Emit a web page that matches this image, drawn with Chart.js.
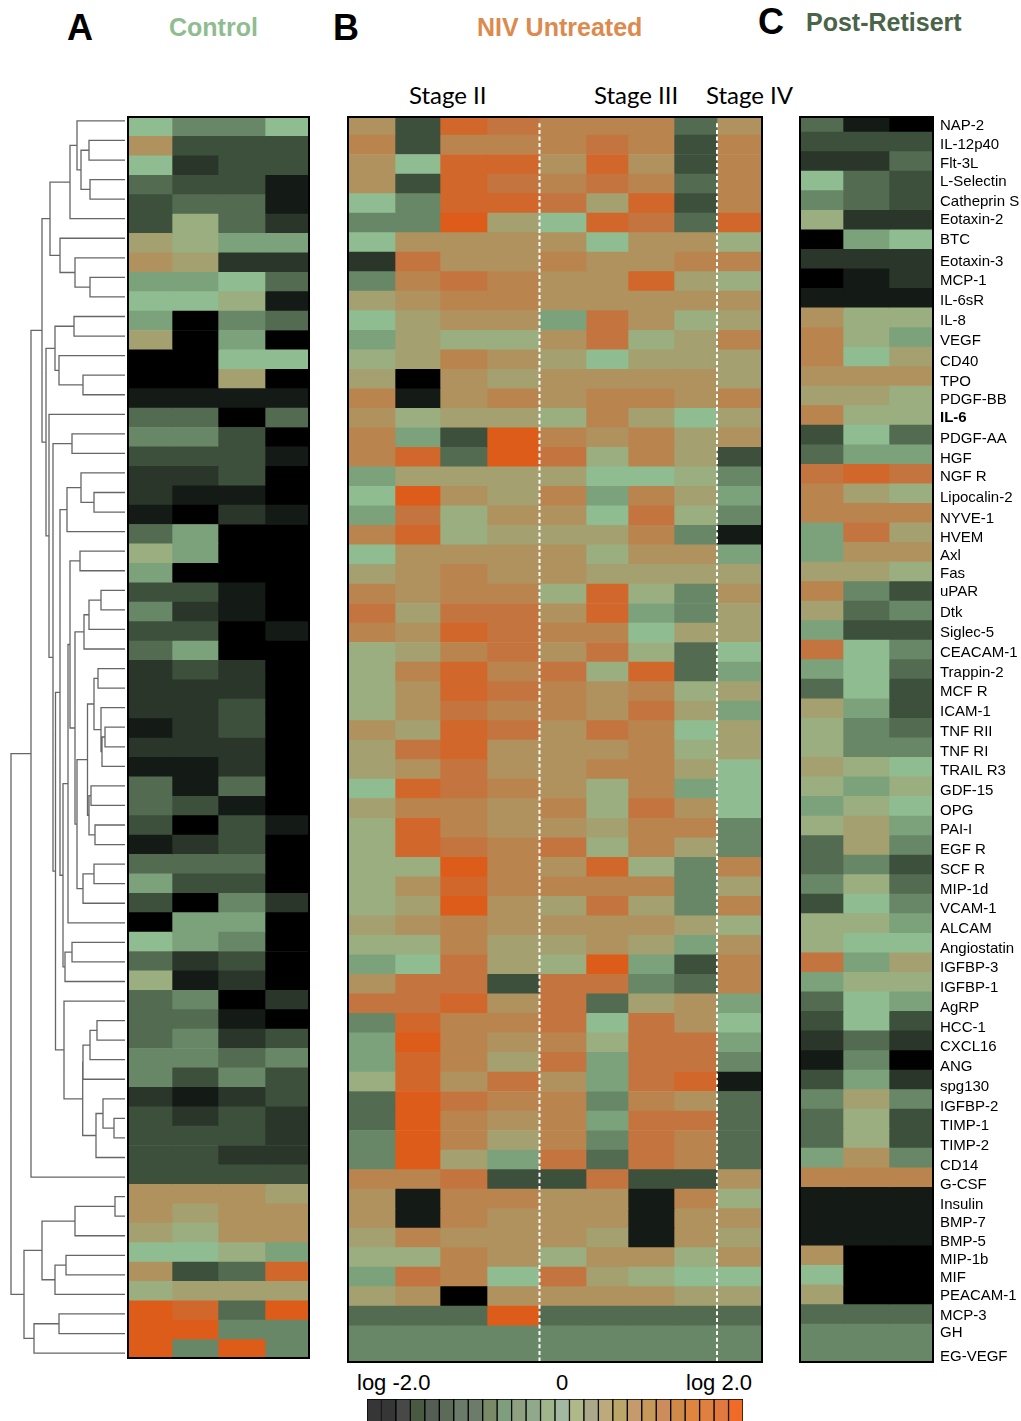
<!DOCTYPE html>
<html>
<head>
<meta charset="utf-8">
<title>Heatmap</title>
<script src="https://cdn.jsdelivr.net/npm/chart.js@4"></script>
<style>
html, body { margin: 0; padding: 0; background: #fff; }
body { position: relative; width: 1021px; height: 1421px; overflow: hidden; font-family: "Liberation Sans", sans-serif; }
canvas, .frame, .txt { position: absolute; }
.frame { box-sizing: border-box; border: 2.4px solid #000; pointer-events: none; }
.txt { line-height: 40px; height: 40px; white-space: nowrap; }
.letter { font-weight: bold; font-size: 36px; color: #000; }
.group { font-weight: bold; font-size: 25px; }
.stage { font-family: Lato, sans-serif; font-size: 24px; color: #000; }
.log { font-size: 22px; color: #000; }
</style>
</head>
<body>
<div class="txt letter" style="left:67px;top:8px">A</div>
<div class="txt letter" style="left:333px;top:8px">B</div>
<div class="txt letter" style="left:758px;top:2px">C</div>
<div class="txt group" style="left:169px;top:7px;color:#8fbc90">Control</div>
<div class="txt group" style="left:477px;top:7px;color:#dc8a4e">NIV Untreated</div>
<div class="txt group" style="left:806px;top:2px;color:#4a6448">Post-Retisert</div>
<div class="txt stage" style="left:409px;top:75px">Stage II</div>
<div class="txt stage" style="left:594px;top:75px">Stage III</div>
<div class="txt stage" style="left:706px;top:75px">Stage IV</div>
<div class="txt log" style="left:357px;top:1363px">log -2.0</div>
<div class="txt log" style="left:556px;top:1363px">0</div>
<div class="txt log" style="left:686px;top:1363px">log 2.0</div>

<canvas id="dendro" width="126" height="1240" style="left:0;top:117px"></canvas>
<canvas id="control" width="179" height="1242" style="left:129px;top:117px"></canvas>
<canvas id="niv" width="412" height="1246" style="left:349px;top:117px"></canvas>
<canvas id="post" width="220" height="1246" style="left:801px;top:117px"></canvas>
<canvas id="colorbar" width="376" height="22" style="left:367px;top:1399px"></canvas>

<div class="frame" style="left:127px;top:116px;width:183px;height:1243px"></div>
<div class="frame" style="left:347px;top:116px;width:416px;height:1247px"></div>
<div class="frame" style="left:799px;top:116px;width:135px;height:1247px"></div>

<script>
// row names, top to bottom
const rowLabels = ['NAP-2','IL-12p40','Flt-3L','L-Selectin','Catheprin S','Eotaxin-2','BTC','Eotaxin-3','MCP-1','IL-6sR',
    'IL-8','VEGF','CD40','TPO','PDGF-BB','IL-6','PDGF-AA','HGF','NGF R','Lipocalin-2',
    'NYVE-1','HVEM','Axl','Fas','uPAR','Dtk','Siglec-5','CEACAM-1','Trappin-2','MCF R',
    'ICAM-1','TNF RII','TNF RI','TRAIL R3','GDF-15','OPG','PAI-I','EGF R','SCF R','MIP-1d',
    'VCAM-1','ALCAM','Angiostatin','IGFBP-3','IGFBP-1','AgRP','HCC-1','CXCL16','ANG','spg130',
    'IGFBP-2','TIMP-1','TIMP-2','CD14','G-CSF','Insulin','BMP-7','BMP-5','MIP-1b','MIF',
    'PEACAM-1','MCP-3','GH','EG-VEGF'];

// cell values as steps on the colour scale, 0 = log -2.0, 7 = 0, 14 = log 2.0
const controlLevels = [
    [7,5,5,7],[10,3,3,3],[7,2,3,3],[4,3,3,1],[3,4,4,1],[3,8,4,2],[9,8,6,6],[10,9,2,2],[6,6,7,4],[7,7,8,1],
    [6,0,5,4],[9,0,6,0],[0,0,7,7],[0,0,9,0],[1,1,1,1],[4,4,0,4],[5,5,3,0],[3,3,3,1],[2,2,3,0],[2,1,1,0],
    [1,0,2,1],[4,6,0,0],[8,6,0,0],[6,0,0,0],[3,3,1,0],[5,2,1,0],[3,3,0,1],[4,6,0,0],[2,3,2,0],[2,2,2,0],
    [2,2,3,0],[1,2,3,0],[2,2,2,0],[1,1,2,0],[4,1,4,0],[4,3,1,0],[3,0,3,1],[1,2,3,0],[4,4,4,0],[6,3,3,0],
    [3,0,5,2],[0,6,6,0],[7,6,5,0],[4,2,3,0],[8,1,2,0],[4,5,0,2],[4,4,1,0],[4,5,2,3],[5,5,4,5],[5,3,5,3],
    [2,1,2,3],[3,2,3,2],[3,3,3,2],[3,3,2,2],[3,3,3,3],[10,10,10,9],[10,9,10,10],[9,8,10,10],[7,7,8,6],[10,3,4,13],
    [8,9,9,9],[14,13,4,14],[14,14,5,5],[14,5,14,5]];

const nivLevels = [
    [10,3,13,12,11,11,11,4,10],[11,3,11,11,11,12,11,3,11],[10,7,13,13,10,13,10,3,11],[10,3,13,12,11,12,11,4,11],
    [7,5,13,13,12,9,13,3,11],[5,5,14,9,7,13,12,4,13],[7,10,10,10,10,7,10,10,8],[2,12,10,10,11,10,10,11,11],
    [5,11,12,11,10,10,13,9,8],[9,10,11,11,10,10,10,10,10],[7,9,10,10,6,12,10,8,9],[6,9,8,8,10,12,8,9,11],
    [8,9,11,10,9,7,9,9,9],[9,0,10,9,10,10,10,10,9],[11,1,10,11,10,11,11,10,11],[10,8,9,9,8,11,9,7,9],
    [11,6,3,14,11,10,11,9,10],[11,13,4,14,12,8,11,9,3],[6,9,9,9,9,7,7,8,5],[7,14,10,9,11,6,11,9,6],
    [6,12,8,10,10,7,12,8,5],[11,13,8,9,9,9,11,5,1],[7,10,10,10,10,8,10,10,6],[9,10,11,10,10,9,9,9,9],
    [11,10,11,11,8,13,8,5,10],[12,9,12,12,10,13,6,5,9],[11,10,13,12,11,11,7,9,9],[8,9,11,12,10,12,8,4,7],
    [8,11,13,11,12,8,13,4,6],[8,10,13,12,11,10,11,8,9],[8,10,12,11,11,10,12,9,6],[10,9,13,12,10,12,11,7,9],
    [9,12,13,10,10,10,11,8,9],[9,10,12,10,10,11,11,9,7],[7,13,12,11,10,8,11,6,7],[9,11,11,10,11,8,12,10,7],
    [8,13,11,10,10,9,11,11,5],[8,13,12,11,12,8,11,9,5],[8,8,14,11,10,13,8,5,11],[8,10,13,11,11,11,11,5,9],
    [8,9,14,10,9,12,9,5,11],[9,10,11,10,10,10,10,9,8],[8,8,11,9,9,10,9,6,10],[6,7,12,9,8,14,6,3,11],
    [10,12,12,3,12,12,5,4,11],[12,12,13,10,12,4,9,10,6],[5,13,11,11,12,7,12,10,7],[6,14,11,10,11,8,12,12,6],
    [6,13,11,9,12,6,12,12,5],[8,13,10,12,10,6,12,13,1],[4,14,12,11,11,5,11,10,4],[4,14,11,10,11,6,12,12,4],
    [5,14,11,9,11,5,12,11,4],[5,14,9,6,12,4,12,11,4],[11,11,12,3,3,12,3,3,10],[10,1,11,11,10,10,1,11,8],
    [10,1,11,10,10,10,1,10,10],[9,11,10,10,10,9,1,10,9],[8,8,11,10,8,10,10,8,10],[6,12,11,7,12,9,8,7,7],
    [9,10,0,10,10,10,10,9,9],[4,4,4,14,4,4,4,4,4],[5,5,5,5,5,5,5,5,5],[5,5,5,5,5,5,5,5,5]];

const postLevels = [
    [4,1,0],[3,3,3],[2,2,4],[7,4,3],[5,4,3],[8,2,2],[0,6,7],[2,2,2],[0,1,2],[1,1,1],
    [10,8,8],[11,8,6],[11,7,9],[10,10,10],[9,9,8],[11,8,8],[3,7,4],[4,6,6],[12,13,12],[11,9,8],
    [11,11,11],[6,12,9],[6,10,10],[9,9,8],[11,5,3],[9,4,5],[6,3,3],[12,7,5],[6,7,4],[4,7,3],
    [9,6,3],[8,5,4],[8,5,5],[9,8,7],[8,6,8],[6,8,7],[8,9,6],[4,9,5],[4,5,3],[5,8,4],
    [3,7,5],[8,8,6],[8,7,7],[12,6,9],[6,8,8],[4,7,6],[3,7,3],[2,4,2],[1,5,0],[3,6,2],
    [5,9,5],[4,8,3],[4,8,3],[6,10,5],[11,11,11],[1,1,1],[1,1,1],[1,1,1],[10,0,0],[7,0,0],
    [9,0,0],[4,4,4],[5,5,5],[5,5,5]];

// colour for each step
const palette = ['#000000','#141a15','#2a3629','#3d503c','#526b51','#688767','#7ca27c','#8fbc90',
    '#9bae80','#a5a06f','#b0925e','#ba844e','#c4753f','#d2672c','#dd5c1a'];

// the printed key
const colorbarColors = ['#363636','#363636','#484848','#4a5a42','#555e55','#5c6a58','#6b7b69','#6c7b6a','#7a8a66',
    '#7e9e7e','#8fa080','#8fa98a','#9fb58c','#a2b8a0','#aeb888','#aca98a','#bca97c','#b9a668','#c59a6c','#c4995a',
    '#cd8c5c','#cf8a4a','#df8540','#df8040','#e07840','#f06a28'];

// dendrogram: [merge position, left, right], a plain number is a row
const c0to5 = [70,[77,0,[81,[89,1,2],[90,3,4]]],5];
const c6to9 = [60,6,[75,7,[90,8,9]]];
const c10to14 = [55,[74,10,11],[59,12,[83,13,14]]];
const c18to21 = [67,[81,18,[94,19,20]],21];
const c24to27 = [84,[89,[101,24,25],26],27];
const c28to37 = [87.5,[94,[98,28,29],[101,30,[102,[105,31,32],33]]],[89,[91,34,35],[95,36,37]]];
const c38to40 = [83,[94,38,39],40];
const c22to44 = [63,[68,[70,[80,22,23],[75,c24to27,[77,c28to37,c38to40]]],41],[65,[72,42,43],44]];
const c45to53 = [64,45,[82.7,[83,[90,[97,46,47],48],49],[96,[103,50,[114,51,52]],53]]];
const c15to53 = [49,15,[53,[72,16,17],[55.5,[60,c18to21,c22to44],c45to53]]];
const c55to63 = [24,[42,[75,[115,55,56],57],[55,[66,58,59],60]],[34,[59,61,62],63]];
const clusterTree = [11,[31,[42,[50,c0to5,c6to9],[46,c10to14,c15to53]],54],c55to63];

// layout: column edges, stage separators and label centres (page pixels)
const controlEdges = [0,43,89,136,179];
const nivEdges = [0,46,91,138,190,237,279,325,368,412];
const postEdges = [0,42,88,131];
const stageBreaks = [190.5,368];
const labelCentres = [126,145,164,182,202,220,240,262,281,301,321,341,362,382,400,418,439,459,477,498,519,538,556,574,592,
    613,633,653,673,692,712,732,752,771,791,811,830,850,870,890,909,929,949,968,988,1008,1028,1047,1067,1087,1107,1126,
    1146,1166,1185,1205,1223,1242,1260,1278,1296,1316,1333,1357];

Chart.defaults.animation = false;
Chart.defaults.responsive = false;
Chart.defaults.events = [];
Chart.defaults.plugins.legend.display = false;
Chart.defaults.plugins.tooltip.enabled = false;

// one dataset per column, each cell is a floating horizontal bar
function heatDatasets(levels, edges){
    const sets = [];
    for(let c=0; c<edges.length-1; c++){
        sets.push({
            data: levels.map((row, r) => ({x: [edges[c], edges[c+1]], y: r+0.5})),
            backgroundColor: levels.map(row => palette[row[c]]),
            borderWidth: 0,
            grouped: false,
            barPercentage: 1,
            categoryPercentage: 1
        });
    }
    return sets;
}

function heatOptions(edges, yMin, yMax){
    return {
        indexAxis: 'y',
        layout: {padding: 0},
        scales: {
            x: {type: 'linear', min: 0, max: edges[edges.length-1], display: false},
            y: {type: 'linear', min: yMin, max: yMax, reverse: true, offset: false, display: false}
        }
    };
}

new Chart(document.getElementById('control'), {
    type: 'bar',
    data: {datasets: heatDatasets(controlLevels, controlEdges)},
    options: heatOptions(controlEdges, 0, 64)
});

// white dotted lines between the stages
const stageLines = {
    id: 'stageLines',
    afterDatasetsDraw(chart){
        const ctx = chart.ctx;
        ctx.save();
        ctx.strokeStyle = '#fff';
        ctx.lineWidth = 2;
        ctx.setLineDash([4, 2.6]);
        stageBreaks.forEach(v => {
            const px = chart.scales.x.getPixelForValue(v);
            ctx.beginPath();
            ctx.moveTo(px, chart.scales.y.getPixelForValue(0.4));
            ctx.lineTo(px, chart.chartArea.bottom);
            ctx.stroke();
        });
        ctx.restore();
    }
};

new Chart(document.getElementById('niv'), {
    type: 'bar',
    data: {datasets: heatDatasets(nivLevels, nivEdges)},
    options: heatOptions(nivEdges, 0.077, 63.91),
    plugins: [stageLines]
});

// the last panel carries the row names on a right hand axis
const postMin = 0.225, postRow = 19.54, postTop = 117;
const postOptions = heatOptions(postEdges, postMin, 63.99);
postOptions.scales.y = {
    type: 'linear',
    position: 'right',
    min: postMin,
    max: 63.99,
    reverse: true,
    offset: false,
    border: {display: false},
    grid: {display: false, drawTicks: false},
    afterBuildTicks(axis){
        axis.ticks = labelCentres.map(px => ({value: postMin + (px-postTop)/postRow}));
    },
    afterFit(axis){
        axis.width = 89;
        axis.paddingTop = 0;
        axis.paddingBottom = 0;
    },
    ticks: {
        autoSkip: false,
        padding: 8,
        color: '#000',
        maxRotation: 0,
        font: ctx => ({family: '"Liberation Sans"', size: 15, weight: ctx.index === 15 ? 'bold' : 'normal'}),
        callback: (value, index) => rowLabels[index]
    }
};
// label ticks sit closer than the rows, so the bar height has to be given
const postSets = heatDatasets(postLevels, postEdges);
postSets.forEach(s => { s.barThickness = 19.7; });
new Chart(document.getElementById('post'), {
    type: 'bar',
    data: {datasets: postSets},
    options: postOptions
});

// dendrogram, walks the tree and gathers the elbows into one line with gaps
const leafX = 125;
const dendroPoints = [];
function walkCluster(node){
    if(typeof node === 'number') return {x: leafX, y: node};
    const a = walkCluster(node[1]);
    const b = walkCluster(node[2]);
    dendroPoints.push({x: a.x, y: a.y}, {x: node[0], y: a.y}, {x: node[0], y: b.y}, {x: b.x, y: b.y}, {x: NaN, y: NaN});
    return {x: node[0], y: (a.y+b.y)/2};
}
walkCluster(clusterTree);

new Chart(document.getElementById('dendro'), {
    type: 'scatter',
    data: {datasets: [{
        data: dendroPoints,
        showLine: true,
        spanGaps: false,
        borderColor: '#666',
        borderWidth: 1.3,
        pointRadius: 0,
        clip: false
    }]},
    options: {
        layout: {padding: 0},
        scales: {
            x: {type: 'linear', min: 0, max: 126, display: false},
            y: {type: 'linear', min: -0.2, max: 63.2, reverse: true, display: false}
        }
    }
});

// colour key
new Chart(document.getElementById('colorbar'), {
    type: 'bar',
    data: {
        labels: colorbarColors,
        datasets: [{
            data: colorbarColors.map(() => 1),
            backgroundColor: colorbarColors,
            borderColor: '#000',
            borderWidth: 1,
            barPercentage: 1,
            categoryPercentage: 1
        }]
    },
    options: {
        layout: {padding: 0},
        scales: {
            x: {display: false},
            y: {min: 0, max: 1, display: false}
        }
    }
});
</script>
</body>
</html>
